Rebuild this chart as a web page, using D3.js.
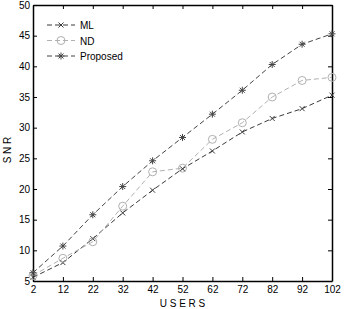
<!DOCTYPE html>
<html>
<head>
<meta charset="utf-8">
<script src="https://cdn.jsdelivr.net/npm/d3@7"></script>
<style>
  body { margin: 0; background: #fff; }
  text { font-family: "Liberation Sans Narrow", "Liberation Sans", Arial, sans-serif; }
</style>
</head>
<body>
<div id="chart"></div>
<script>
var users = [2, 12, 22, 32, 42, 52, 62, 72, 82, 92, 102];
var mlValues = [5.6, 8.0, 11.9, 16.1, 19.8, 23.3, 26.2, 29.3, 31.5, 33.1, 35.3];
var ndValues = [5.9, 8.7, 11.4, 17.2, 22.8, 23.4, 28.1, 30.8, 35.0, 37.7, 38.2];
var proposedValues = [6.35, 10.7, 15.8, 20.4, 24.6, 28.4, 32.2, 36.1, 40.3, 43.6, 45.3];
var yTicks = [5, 10, 15, 20, 25, 30, 35, 40, 45, 50];
var seriesNames = ["ML", "ND", "Proposed"];

var width = 344, height = 309;
var margin = { left: 33, right: 12, top: 5, bottom: 28 };
var w = width - margin.left - margin.right;
var h = height - margin.top - margin.bottom;

var svg = d3.select("#chart").append("svg")
    .attr("width", width)
    .attr("height", height);
var g = svg.append("g")
    .attr("transform", "translate(" + margin.left + "," + margin.top + ")");

var x = d3.scaleLinear().domain([2, 102]).range([0, w]);
var y = d3.scaleLinear().domain([5, 50]).range([h, 0]);

// axes with ticks pointing inward, on all four sides
var tickLen = 4;
g.append("g")
    .attr("transform", "translate(0," + h + ")")
    .call(d3.axisBottom(x).tickValues(users).tickSizeInner(-tickLen).tickSizeOuter(0).tickPadding(5));
g.append("g")
    .call(d3.axisTop(x).tickValues(users).tickSizeInner(-tickLen).tickSizeOuter(0).tickFormat(""));
g.append("g")
    .call(d3.axisLeft(y).tickValues(yTicks).tickSizeInner(-tickLen).tickSizeOuter(0).tickPadding(3));
g.append("g")
    .attr("transform", "translate(" + w + ",0)")
    .call(d3.axisRight(y).tickValues(yTicks).tickSizeInner(-tickLen).tickSizeOuter(0).tickFormat(""));

g.selectAll(".domain").attr("stroke", "#000").attr("stroke-width", 1.5);
g.selectAll(".tick line").attr("stroke", "#000");
g.selectAll(".tick text").attr("font-size", 10).attr("fill", "#000");

// axis titles
svg.append("text")
    .attr("x", margin.left + w / 2)
    .attr("y", 307)
    .attr("text-anchor", "middle")
    .attr("font-size", 10)
    .text("U S E R S");
svg.append("text")
    .attr("transform", "translate(11,150) rotate(-90)")
    .attr("text-anchor", "middle")
    .attr("font-size", 10)
    .text("S N R");

var series = [
    { name: "ML", values: mlValues, color: "#3a3a3a", marker: "x" },
    { name: "ND", values: ndValues, color: "#b0b0b0", marker: "o" },
    { name: "Proposed", values: proposedValues, color: "#444", marker: "*" }
];

var line = d3.line()
    .x(function (d) { return x(d[0]); })
    .y(function (d) { return y(d[1]); });

function drawMarker(sel, type, color) {
    if (type === "o") {
        sel.append("circle").attr("r", 4).attr("fill", "none").attr("stroke", color);
    } else {
        var r = 2.5;
        sel.append("path")
            .attr("d", "M" + (-r) + "," + (-r) + "L" + r + "," + r + "M" + (-r) + "," + r + "L" + r + "," + (-r))
            .attr("stroke", color).attr("stroke-width", 1);
        if (type === "*") {
            sel.append("path")
                .attr("d", "M0," + (-r - 1) + "L0," + (r + 1) + "M" + (-r - 1) + ",0L" + (r + 1) + ",0")
                .attr("stroke", color).attr("stroke-width", 1);
        }
    }
}

series.forEach(function (s) {
    var pts = users.map(function (u, i) { return [u, s.values[i]]; });
    g.append("path")
        .datum(pts)
        .attr("fill", "none")
        .attr("stroke", s.color)
        .attr("stroke-width", 1)
        .attr("stroke-dasharray", "5,3")
        .attr("d", line);
    g.selectAll(".m-" + s.name).data(pts).enter().append("g")
        .attr("transform", function (d) { return "translate(" + x(d[0]) + "," + y(d[1]) + ")"; })
        .each(function () { drawMarker(d3.select(this), s.marker, s.color); });
});

// legend
var legend = g.append("g").attr("transform", "translate(14,20)");
series.forEach(function (s, i) {
    var row = legend.append("g").attr("transform", "translate(0," + (i * 15.5) + ")");
    row.append("line")
        .attr("x1", 0).attr("x2", 28)
        .attr("stroke", s.color)
        .attr("stroke-dasharray", "5,3");
    drawMarker(row.append("g").attr("transform", "translate(14,0)"), s.marker, s.color);
    row.append("text")
        .attr("x", 33).attr("y", 4)
        .attr("font-size", 10)
        .text(s.name);
});
</script>
</body>
</html>
